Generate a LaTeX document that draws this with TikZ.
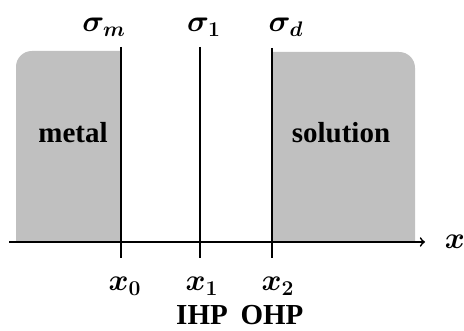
\documentclass[tikz,border=0pt]{standalone}
\usepackage{fontspec}
\setmainfont{Liberation Serif}
\usetikzlibrary{arrows,positioning}
\definecolor{phase}{RGB}{192,192,192}

\begin{document}
\begin{tikzpicture}[x=0.02cm, y=-0.02cm, every node/.style={font=\fontsize{18}{20}\selectfont\boldmath, inner sep=0pt}]
\tikzset{word/.style={font=\fontsize{16.5}{18}\selectfont\bfseries}}
\useasboundingbox (0,0) rectangle (464,331);
% metal and solution regions
\fill[phase] (16,242) [rounded corners=9] -- (16,51) [sharp corners] -- (121,51) -- (121,242) -- cycle;
\fill[phase] (272,242) -- (272,52) [rounded corners=9] -- (415,52) [sharp corners] -- (415,242) -- cycle;
\node[word] (metal) at (73,133) {metal};
\node[word] (sol) at (341,133) {solution};
% planes
\coordinate (t0) at (121,47); \coordinate (b0) at (121,258);
\coordinate (t1) at (200,47); \coordinate (b1) at (200,258);
\coordinate (t2) at (272,48); \coordinate (b2) at (272,258);
\draw[line width=1.3pt] (t0) -- (b0);
\draw[line width=1.3pt] (t1) -- (b1);
\draw[line width=1.3pt] (t2) -- (b2);
\node (sm) at (104,27) {$\sigma_m$};
\node (s1) at (204,27) {$\sigma_1$};
\node (sd) at (286,27) {$\sigma_d$};
% axis
\coordinate (a0) at (9,242);
\node (xlab) at (455,242) {$x$};
\draw[->, line width=1pt, >=to] (a0) -- (425,242) coordinate (a1);
\node (x0) at (125,286) {$x_0$};
\node (x1) at (202,286) {$x_1$};
\node (x2) at (278,286) {$x_2$};
\node[word] (ihp) at (202,315) {IHP};
\node[word] (ohp) at (272,315) {OHP};
\end{tikzpicture}
\end{document}
